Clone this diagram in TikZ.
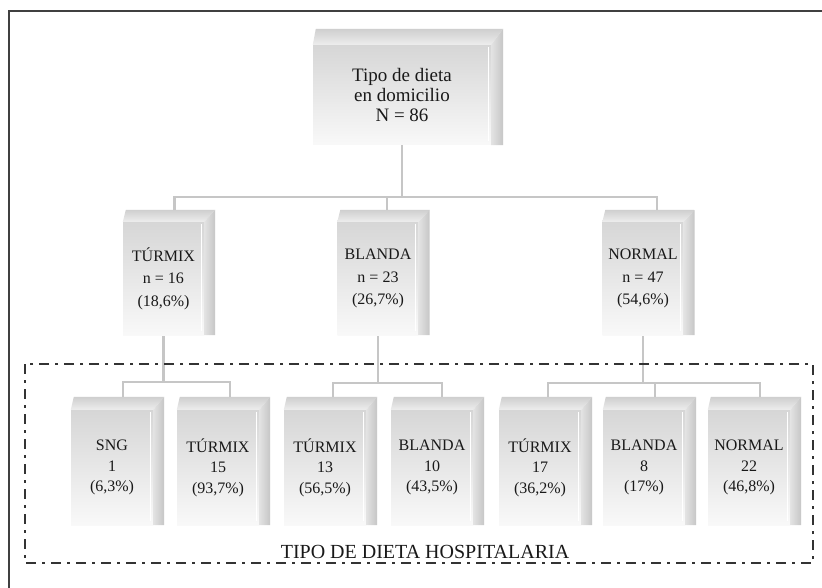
\documentclass[tikz,border=0pt]{standalone}
\usepackage{fontspec}
\setmainfont{Liberation Serif}
\pgfdeclarelayer{back}
\pgfdeclarelayer{bg}
\pgfsetlayers{back,bg,main}
\newcommand{\boxbevel}[3]{%
  \shade[top color=gray!38, bottom color=gray!14]
    (#1.north west) -- ([xshift=3pt,yshift=#2]#1.north west) -- ([xshift=#3,yshift=#2]#1.north east) -- (#1.north east) -- cycle;
  \shade[left color=gray!22, right color=gray!45]
    (#1.north east) -- ([xshift=#3,yshift=#2]#1.north east) -- ([xshift=#3]#1.south east) -- (#1.south east) -- cycle;
  \draw[white, line width=0.8pt] ([xshift=-3pt,yshift=-2pt]#1.north east) -- ([xshift=-3pt,yshift=4pt]#1.south east);
}
\begin{document}
\begin{tikzpicture}[x=1pt,y=-1pt,
  face/.style={rectangle, inner sep=0pt, top color=gray!32, bottom color=gray!5, align=center, text=black!90, font=\fontsize{16}{20.5}\selectfont},
  facemid/.style={face, font=\fontsize{16}{22.5}\selectfont},
  facetop/.style={face, font=\fontsize{19}{20}\selectfont},
  conn/.style={draw=gray!45, line width=2.6pt},
  frame/.style={draw=black!80, line width=2.4pt, dash pattern=on 10pt off 6pt on 3pt off 6pt},
  lbl/.style={text=black!90, font=\fontsize{20}{22}\selectfont, inner sep=0pt}
]
\begin{pgfonlayer}{back}
\fill[white] (0,0) rectangle (822,588);
\end{pgfonlayer}
\useasboundingbox (0,0) rectangle (822,588);
\draw[black!75, line width=1.6pt] (822,11) -- (9,11) -- (9,588);

% top
\node[facetop, minimum width=178pt, minimum height=100pt] (top) at (402,95) {Tipo de dieta\\en domicilio\\N = 86};
\boxbevel{top}{16pt}{12pt}

% second row
\node[facemid, minimum width=81pt, minimum height=113pt] (t1) at (163.5,278.5) {TÚRMIX\\n = 16\\(18,6\%)};
\node[facemid, minimum width=81pt, minimum height=113pt] (t2) at (378,278.5) {BLANDA\\n = 23\\(26,7\%)};
\node[facemid, minimum width=81pt, minimum height=113pt] (t3) at (643,278.5) {NORMAL\\n = 47\\(54,6\%)};
\boxbevel{t1}{12pt}{11pt}
\boxbevel{t2}{12pt}{11pt}
\boxbevel{t3}{12pt}{11pt}

% bottom row
\node[face, minimum width=82pt, minimum height=115pt] (b1) at (112,467.5) {SNG\\1\\(6,3\%)};
\node[face, minimum width=82pt, minimum height=115pt] (b2) at (218,467.5) {TÚRMIX\\15\\(93,7\%)};
\node[face, minimum width=82pt, minimum height=115pt] (b3) at (325,467.5) {TÚRMIX\\13\\(56,5\%)};
\node[face, minimum width=82pt, minimum height=115pt] (b4) at (432,467.5) {BLANDA\\10\\(43,5\%)};
\node[face, minimum width=82pt, minimum height=115pt] (b5) at (540,467.5) {TÚRMIX\\17\\(36,2\%)};
\node[face, minimum width=82pt, minimum height=115pt] (b6) at (644,467.5) {BLANDA\\8\\(17\%)};
\node[face, minimum width=82pt, minimum height=115pt] (b7) at (749,467.5) {NORMAL\\22\\(46,8\%)};
\foreach \n in {b1,b2,b3,b4,b5,b6,b7}{\boxbevel{\n}{13pt}{11pt}}

% connectors
\coordinate (j0) at (402,197);
\coordinate (j1) at (0,382);
\coordinate (j2) at (0,383);
\coordinate (j3) at (0,383);
\begin{pgfonlayer}{bg}
\draw[conn] (top.south) -- (j0);
\draw[conn] (j0) -| ([xshift=11pt,yshift=12pt]t1.north);
\draw[conn] (j0) -| ([xshift=9pt,yshift=12pt]t2.north);
\draw[conn] (j0) -| ([xshift=14pt,yshift=12pt]t3.north);
\draw[conn] (t1.south) -- (t1.south |- j1);
\draw[conn] ([xshift=11pt,yshift=13pt]b1.north) |- (t1.south |- j1) -| ([xshift=12pt,yshift=13pt]b2.north);
\draw[conn] (t2.south) -- (t2.south |- j2);
\draw[conn] ([xshift=8pt,yshift=13pt]b3.north) |- (t2.south |- j2) -| ([xshift=10pt,yshift=13pt]b4.north);
\draw[conn] (t3.south) -- (t3.south |- j3);
\draw[conn] ([xshift=8pt,yshift=13pt]b5.north) |- (t3.south |- j3) -| ([xshift=11pt,yshift=13pt]b7.north);
\draw[conn] (t3.south |- j3) -| ([xshift=11pt,yshift=13pt]b6.north);
\end{pgfonlayer}

% frame
\draw[frame] (25,364) rectangle (813,563);
\node[lbl] (hosp) at (425,552) {TIPO DE DIETA HOSPITALARIA};
\end{tikzpicture}
\end{document}
